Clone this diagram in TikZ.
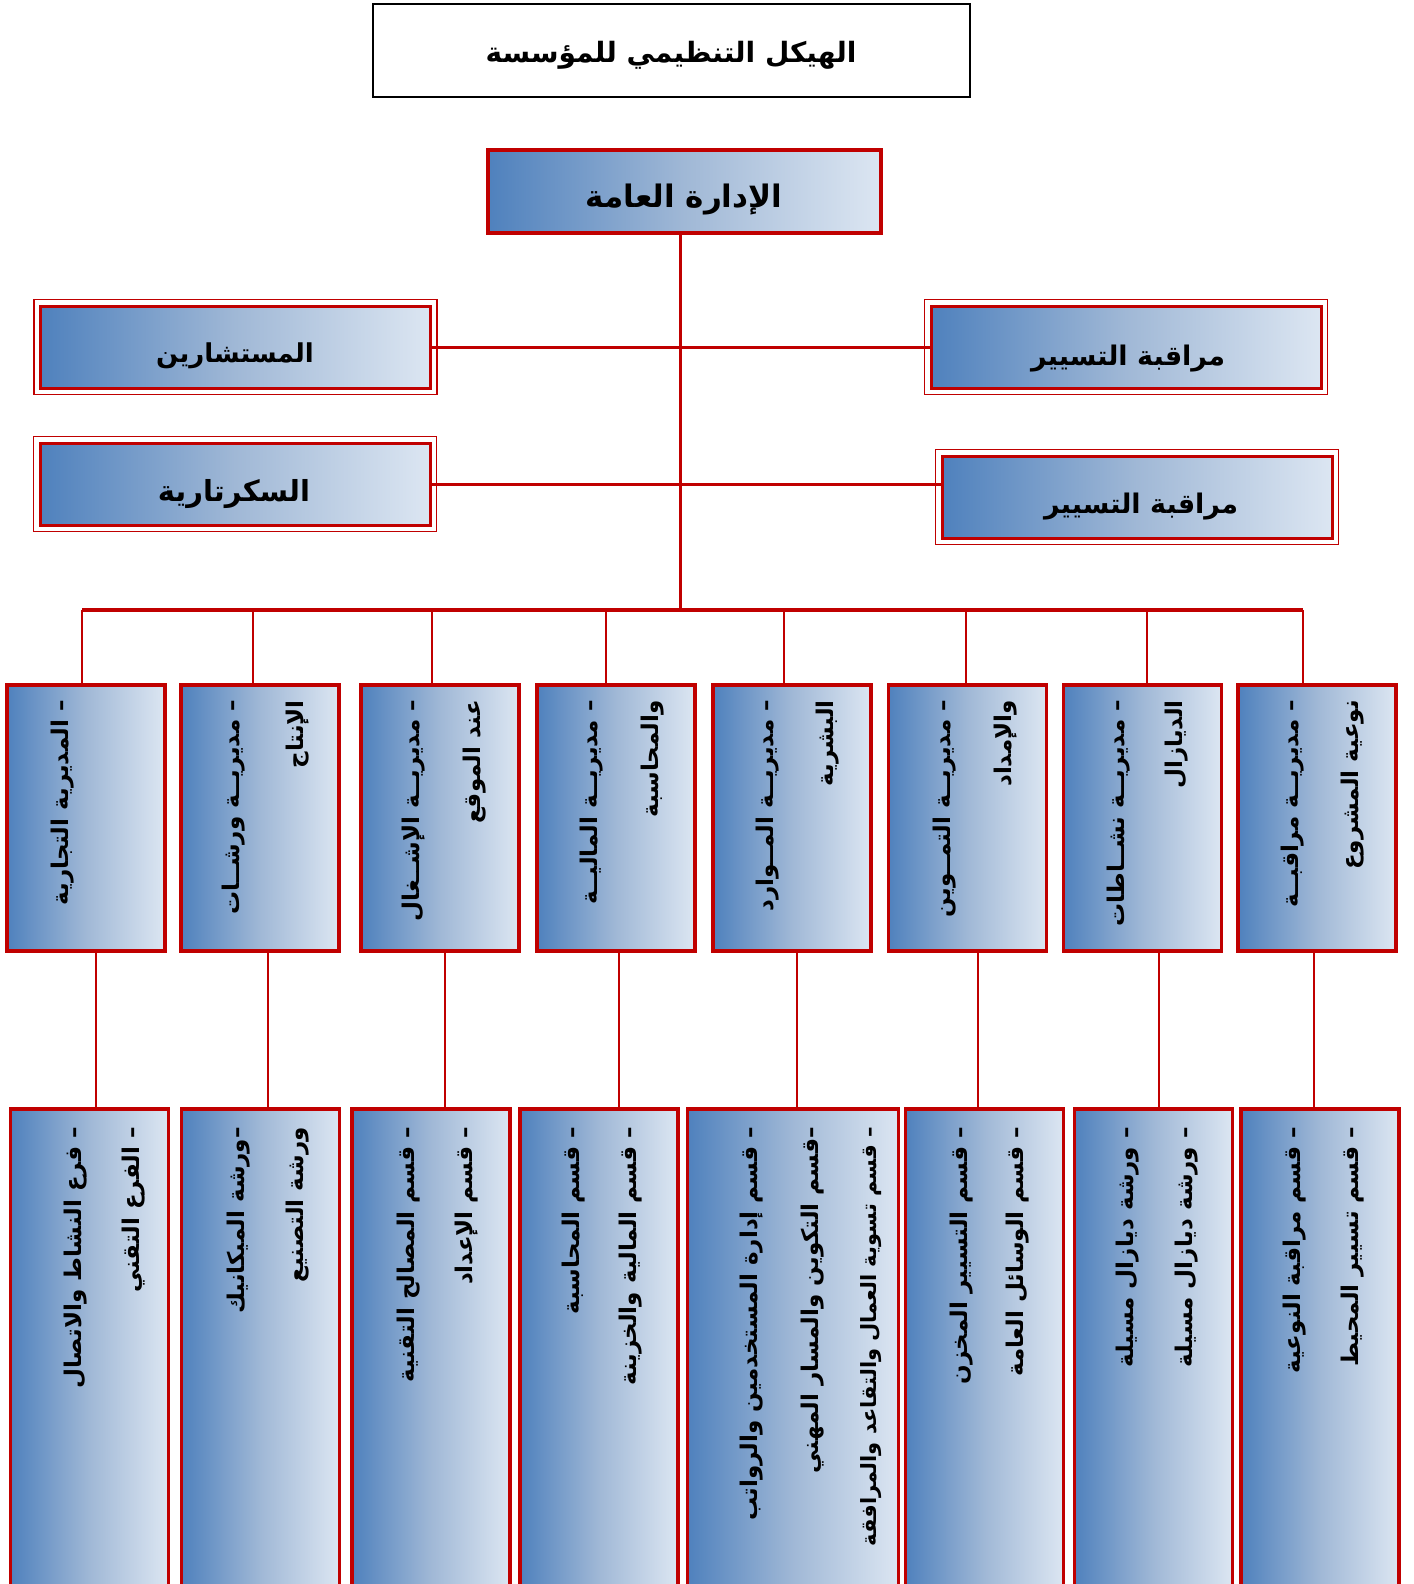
\documentclass[tikz,border=0pt]{standalone}
\usepackage{fontspec}
\newfontfamily\arab[Script=Arabic]{DejaVu Sans}
\TeXXeTstate=1
\definecolor{dred}{RGB}{192,0,0}
\definecolor{gblue}{RGB}{79,129,189}
\definecolor{gmid}{RGB}{160,184,214}
\definecolor{glight}{RGB}{220,230,242}
\tikzset{
 grad/.style={left color=gblue, right color=glight, middle color=gmid},
 mbox/.style={grad, draw=dred, line width=3.5pt, inner sep=0pt, minimum width=158pt, minimum height=266pt},
 bbox/.style={grad, draw=dred, line width=3.5pt, inner sep=0pt, minimum width=158pt, minimum height=492pt},
 sbox/.style={grad, draw=dred, line width=3pt, inner sep=0pt, minimum width=390pt, minimum height=82pt},
 souter/.style={draw=dred, line width=1.5pt},
 conn/.style={draw=dred, line width=3pt},
 vtxt/.style={rotate=90, anchor=east, inner sep=0pt, font=\arab\bfseries\fontsize{23}{26}\selectfont},
 htxt/.style={inner sep=0pt, font=\arab\bfseries\fontsize{26}{30}\selectfont},
}
\newcommand\souterbox[1]{\draw[souter] ([shift={(-5pt,5pt)}]#1.north west) rectangle ([shift={(5pt,-5pt)}]#1.south east);}
\begin{document}
\begin{tikzpicture}[x=1pt,y=-1pt]
\clip (0,0) rectangle (1413,1584);
\fill[white] (0,0) rectangle (1413,1584);

% title
\node[draw=black, line width=1.5pt, minimum width=597pt, minimum height=93pt, inner sep=0pt] (title) at (671.5,50.5) {};
\node[htxt, font=\arab\bfseries\fontsize{28}{32}\selectfont] (titletxt) at (671,55) {\beginR الهيكل التنظيمي للمؤسسة\endR};

% general management
\node[grad, draw=dred, line width=4.5pt, minimum width=393pt, minimum height=83pt, inner sep=0pt] (gm) at (684.5,191.5) {};
\node[htxt, font=\arab\bfseries\fontsize{31}{34}\selectfont] (gmtxt) at (684,200) {\beginR الإدارة العامة\endR};

% side boxes
\node[sbox] (adv) at (235.5,347) {};
\souterbox{adv}
\node[htxt] (advtxt) at (235,356) {\beginR المستشارين\endR};
\node[sbox] (sec) at (235,484) {};
\souterbox{sec}
\node[htxt, font=\arab\bfseries\fontsize{29}{32}\selectfont] (sectxt) at (234,494) {\beginR السكرتارية\endR};
\node[sbox] (ctrla) at (1126,347) {};
\souterbox{ctrla}
\node[htxt, font=\arab\bfseries\fontsize{27}{30}\selectfont] (ctrlatxt) at (1128,359) {\beginR مراقبة التسيير\endR};
\node[sbox] (ctrlb) at (1137,497) {};
\souterbox{ctrlb}
\node[htxt, font=\arab\bfseries\fontsize{27}{30}\selectfont] (ctrlbtxt) at (1141,507) {\beginR مراقبة  التسيير\endR};

% connectors top
\coordinate (busc) at (680,610);
\coordinate (busL) at (82,610);
\coordinate (busR) at (1303,610);
\draw[conn] (busc |- gm.south) -- (busc);
\draw[conn] (adv.east) -- (ctrla.west);
\draw[conn] (sec.east) -- (sec.east -| ctrlb.west);
\draw[conn, line width=4pt] (busL) -- (busR);

% middle boxes
\node[mbox] (m1) at (86,818) {};
\node[mbox] (m2) at (260,818) {};
\node[mbox] (m3) at (440,818) {};
\node[mbox] (m4) at (616,818) {};
\node[mbox] (m5) at (792,818) {};
\node[mbox] (m6) at (967.5,818) {};
\node[mbox] (m7) at (1142.5,818) {};
\node[mbox] (m8) at (1317,818) {};

% drops
\coordinate (d1) at (82,610);
\coordinate (d2) at (253,610);
\coordinate (d3) at (432,610);
\coordinate (d4) at (606,610);
\coordinate (d5) at (784,610);
\coordinate (d6) at (966,610);
\coordinate (d7) at (1147,610);
\coordinate (d8) at (1303,610);
\foreach \i in {1,...,8}{\draw[conn, line width=2.5pt] (d\i) -- (d\i |- m\i.north);}

% bottom boxes
\node[bbox] (b1) at (89.5,1355) {};
\node[bbox] (b2) at (260.5,1355) {};
\node[bbox] (b3) at (431,1355) {};
\node[bbox] (b4) at (599,1355) {};
\node[bbox, minimum width=211pt] (b5) at (793,1355) {};
\node[bbox] (b6) at (984.5,1355) {};
\node[bbox] (b7) at (1153.5,1355) {};
\node[bbox] (b8) at (1320,1355) {};

% lower connectors
\coordinate (l1) at (96,1000);
\coordinate (l2) at (268,1000);
\coordinate (l3) at (445,1000);
\coordinate (l4) at (619,1000);
\coordinate (l5) at (797,1000);
\coordinate (l6) at (978,1000);
\coordinate (l7) at (1159,1000);
\coordinate (l8) at (1314,1000);
\foreach \i in {1,...,8}{\draw[conn, line width=2.5pt] (l\i |- m\i.south) -- (l\i |- b\i.north);}

% middle texts
\node[vtxt] (m1a) at (63,700) {\beginR – المديرية التجارية\endR};
\node[vtxt] (m2a) at (234,700) {\beginR – مديريــة ورشــات\endR};
\node[vtxt] (m2b) at (298,700) {\beginR الإنتاج\endR};
\node[vtxt] (m3a) at (414,700) {\beginR – مديريــة الإشــغال\endR};
\node[vtxt] (m3b) at (475,700) {\beginR عند الموقع\endR};
\node[vtxt] (m4a) at (592,700) {\beginR – مديريــة الماليــة\endR};
\node[vtxt] (m4b) at (653,700) {\beginR والمحاسبة\endR};
\node[vtxt] (m5a) at (768,700) {\beginR – مديريــة   المــوارد\endR};
\node[vtxt] (m5b) at (828,700) {\beginR البشرية\endR};
\node[vtxt] (m6a) at (945,700) {\beginR – مديريــة التمــوين\endR};
\node[vtxt] (m6b) at (1006,700) {\beginR والإمداد\endR};
\node[vtxt] (m7a) at (1119,700) {\beginR – مديريــة نشــاطات\endR};
\node[vtxt] (m7b) at (1177,700) {\beginR الديازال\endR};
\node[vtxt] (m8a) at (1293,700) {\beginR – مديريــة مراقبــة\endR};
\node[vtxt] (m8b) at (1353,700) {\beginR نوعية   المشروع\endR};

% bottom texts
\node[vtxt] (b1a) at (76,1127) {\beginR – فرع النشاط والاتصال\endR};
\node[vtxt] (b1b) at (134,1127) {\beginR – الفرع التقني\endR};
\node[vtxt] (b2a) at (239,1127) {\beginR –ورشة الميكانيك\endR};
\node[vtxt] (b2b) at (298,1127) {\beginR ورشة التصنيع\endR};
\node[vtxt] (b3a) at (409,1127) {\beginR – قسم المصالح التقنية\endR};
\node[vtxt] (b3b) at (467,1127) {\beginR – قسم الإعداد\endR};
\node[vtxt] (b4a) at (574,1127) {\beginR – قسم المحاسبة\endR};
\node[vtxt] (b4b) at (631,1127) {\beginR – قسم المالية والخزينة\endR};
\node[vtxt] (b5a) at (752,1127) {\beginR – قسم إدارة المستخدمين والرواتب\endR};
\node[vtxt] (b5b) at (813,1127) {\beginR –قسم التكوين والمسار المهني\endR};
\node[vtxt, font=\arab\bfseries\fontsize{21}{24}\selectfont] (b5c) at (871,1127) {\beginR – قسم تسوية العمال والتقاعد والمرافقة\endR};
\node[vtxt] (b6a) at (962,1127) {\beginR – قسم التسيير المخزن\endR};
\node[vtxt] (b6b) at (1018,1127) {\beginR – قسم الوسائل العامة\endR};
\node[vtxt] (b7a) at (1128,1127) {\beginR – ورشة  ديازال مسيلة\endR};
\node[vtxt] (b7b) at (1187,1127) {\beginR – ورشة ديازال مسيلة\endR};
\node[vtxt] (b8a) at (1295,1127) {\beginR – قسم مراقبة النوعية\endR};
\node[vtxt] (b8b) at (1353,1127) {\beginR – قسم تسيير المحيط\endR};
\end{tikzpicture}
\end{document}
